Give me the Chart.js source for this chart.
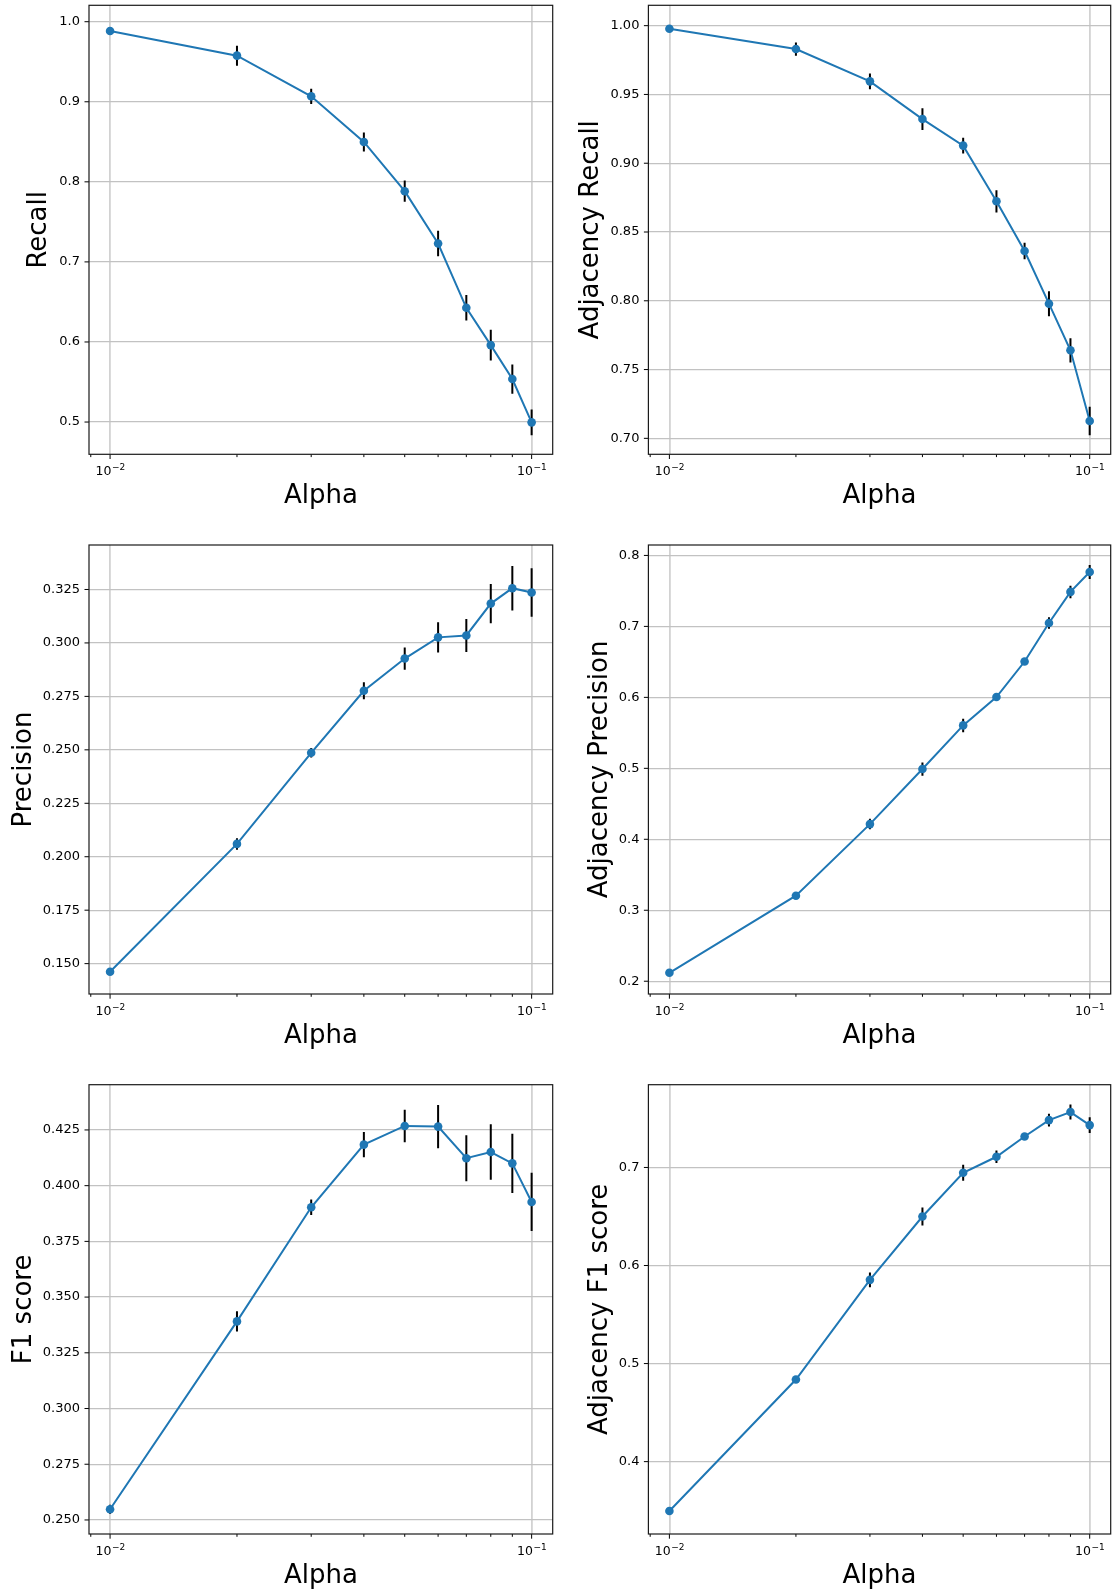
<!DOCTYPE html>
<html>
<head>
<meta charset="utf-8">
<title>Alpha sweep</title>
<script src="https://cdn.jsdelivr.net/npm/chart.js@4.4.1/dist/chart.umd.min.js"></script>
<style>
    html, body { margin: 0; padding: 0; background: #fff; }
    #page { position: relative; width: 1115px; height: 1593px; overflow: hidden; }
    #page canvas { position: absolute; }
</style>
</head>
<body>
<div id="page"></div>
<script>
const alphas = [0.01, 0.02, 0.03, 0.04, 0.05, 0.06, 0.07, 0.08, 0.09, 0.1];
const alphaTicks = [0.009, 0.01, 0.02, 0.03, 0.04, 0.05, 0.06, 0.07, 0.08, 0.09, 0.1];
// base^exponent, drawn with a raised exponent
const alphaTickLabels = ['', '10^\u22122', '', '', '', '', '', '', '', '', '10^\u22121'];

const recallMean = [0.9884, 0.9576, 0.9068, 0.8498, 0.7883, 0.7230, 0.6427, 0.5961, 0.5537, 0.4996];
const recallErr = [0.002, 0.0125, 0.0096, 0.0119, 0.0133, 0.0158, 0.016, 0.0191, 0.0183, 0.0162];
const recallTicks = [0.5, 0.6, 0.7, 0.8, 0.9, 1.0];

const adjRecallMean = [0.9978, 0.9830, 0.9595, 0.9321, 0.9128, 0.8723, 0.8362, 0.7979, 0.7640, 0.7126];
const adjRecallErr = [0.001, 0.0048, 0.0057, 0.0079, 0.0057, 0.0081, 0.006, 0.0091, 0.0088, 0.0103];
const adjRecallTicks = [0.70, 0.75, 0.80, 0.85, 0.90, 0.95, 1.00];

const precisionMean = [0.1462, 0.2060, 0.2486, 0.2776, 0.2927, 0.3026, 0.3035, 0.3184, 0.3256, 0.3236];
const precisionErr = [0.001, 0.0027, 0.0022, 0.004, 0.0052, 0.0071, 0.0077, 0.0092, 0.0104, 0.0113];
const precisionTicks = [0.150, 0.175, 0.200, 0.225, 0.250, 0.275, 0.300, 0.325];

const adjPrecisionMean = [0.2119, 0.3205, 0.4214, 0.4990, 0.5605, 0.6005, 0.6505, 0.7048, 0.7486, 0.7767];
const adjPrecisionErr = [0.002, 0.003, 0.0074, 0.0093, 0.0095, 0.004, 0.003, 0.008, 0.0088, 0.0098];
const adjPrecisionTicks = [0.2, 0.3, 0.4, 0.5, 0.6, 0.7, 0.8];

const f1Mean = [0.2548, 0.3391, 0.3903, 0.4184, 0.4268, 0.4265, 0.4123, 0.4151, 0.4100, 0.3927];
const f1Err = [0.002, 0.0045, 0.0035, 0.0057, 0.0073, 0.0097, 0.0103, 0.0124, 0.0133, 0.0131];
const f1Ticks = [0.250, 0.275, 0.300, 0.325, 0.350, 0.375, 0.400, 0.425];

const adjF1Mean = [0.3497, 0.4837, 0.5854, 0.6500, 0.6946, 0.7109, 0.7316, 0.7483, 0.7565, 0.7432];
const adjF1Err = [0.002, 0.002, 0.0075, 0.0092, 0.0082, 0.0063, 0.003, 0.0065, 0.0077, 0.008];
const adjF1Ticks = [0.4, 0.5, 0.6, 0.7];

const BLUE = '#1f77b4';
const FONT = 'DejaVu Sans';

// grid of canvases: two columns, three rows
const cols = [
    { left: 0, width: 557, axisWidth: 89, padRight: 1.7 },
    { left: 557, width: 558, axisWidth: 91.4, padRight: 0.2 }
];
const rows = [
    { top: 0, height: 530, padTop: 5.3, axisHeight: 75.7 },
    { top: 530, height: 540, padTop: 15, axisHeight: 76 },
    { top: 1070, height: 523, padTop: 14.7, axisHeight: 59 }
];

const panels = [
    { label: 'Recall', mean: recallMean, err: recallErr, ticks: recallTicks, digits: 1, range: [0.4597, 1.0205], row: 0, col: 0, titleMid: 39.6 },
    { label: 'Adjacency Recall', mean: adjRecallMean, err: adjRecallErr, ticks: adjRecallTicks, digits: 2, range: [0.6884, 1.0148], row: 0, col: 1, titleMid: 34.3 },
    { label: 'Precision', mean: precisionMean, err: precisionErr, ticks: precisionTicks, digits: 3, range: [0.1358, 0.3458], row: 1, col: 0, titleMid: 24.5 },
    { label: 'Adjacency Precision', mean: adjPrecisionMean, err: adjPrecisionErr, ticks: adjPrecisionTicks, digits: 1, range: [0.182, 0.8147], row: 1, col: 1, titleMid: 43.2 },
    { label: 'F1 score', mean: f1Mean, err: f1Err, ticks: f1Ticks, digits: 3, range: [0.2437, 0.4453], row: 2, col: 0, titleMid: 24.5 },
    { label: 'Adjacency F1 score', mean: adjF1Mean, err: adjF1Err, ticks: adjF1Ticks, digits: 1, range: [0.3262, 0.7844], row: 2, col: 1, titleMid: 43.2 }
];

const TITLE_SIZE = 26;
const TICK_SIZE = 13;

function isDecade(v) {
    const l = Math.log10(v);
    return Math.abs(l - Math.round(l)) < 1e-9;
}

function zeroPadding(scale) {
    scale.paddingTop = 0;
    scale.paddingBottom = 0;
    scale.paddingLeft = 0;
    scale.paddingRight = 0;
}

// vertical black bars for mean +- err, drawn under the line
function errorBars(panel) {
    return {
        id: 'errorBars',
        beforeDatasetsDraw(chart) {
            const { ctx, scales: { x, y } } = chart;
            ctx.save();
            ctx.strokeStyle = '#000';
            ctx.lineWidth = 2;
            ctx.beginPath();
            alphas.forEach((a, i) => {
                const px = x.getPixelForValue(a);
                ctx.moveTo(px, y.getPixelForValue(panel.mean[i] - panel.err[i]));
                ctx.lineTo(px, y.getPixelForValue(panel.mean[i] + panel.err[i]));
            });
            ctx.stroke();
            ctx.restore();
        }
    };
}

// power-of-ten labels under the log axis: base plus a small raised exponent
function drawPowerLabel(ctx, text, cx, baseline) {
    const [base, exp] = text.split('^');
    ctx.font = '12.5px "' + FONT + '"';
    const wBase = ctx.measureText(base).width;
    ctx.font = '9px "' + FONT + '"';
    const wExp = ctx.measureText(exp).width;
    const start = cx - (wBase + wExp) / 2;
    ctx.font = '12.5px "' + FONT + '"';
    ctx.fillText(base, start, baseline);
    ctx.font = '9px "' + FONT + '"';
    ctx.fillText(exp, start + wBase + 0.5, baseline - 5);
}

// axes box, outward tick marks and the x tick labels
const frame = {
    id: 'frame',
    afterDraw(chart) {
        const { ctx, chartArea: a, scales: { x, y } } = chart;
        ctx.save();
        ctx.strokeStyle = '#000';
        ctx.lineWidth = 1;
        ctx.beginPath();
        x.ticks.forEach(t => {
            const px = x.getPixelForValue(t.value);
            const len = isDecade(t.value) ? 4.7 : 2.8;
            ctx.moveTo(px, a.bottom);
            ctx.lineTo(px, a.bottom + len);
        });
        y.ticks.forEach(t => {
            const py = y.getPixelForValue(t.value);
            ctx.moveTo(a.left - 4.5, py);
            ctx.lineTo(a.left, py);
        });
        ctx.stroke();
        ctx.lineWidth = 1.2;
        ctx.strokeStyle = '#1a1a1a';
        ctx.strokeRect(a.left, a.top, a.right - a.left, a.bottom - a.top);

        ctx.fillStyle = '#000';
        ctx.textBaseline = 'alphabetic';
        ctx.textAlign = 'left';
        alphaTicks.forEach((v, i) => {
            if (alphaTickLabels[i]) {
                drawPowerLabel(ctx, alphaTickLabels[i], x.getPixelForValue(v), a.bottom + 20.7);
            }
        });
        ctx.restore();
    }
};

function buildChart(panel) {
    const col = cols[panel.col];
    const row = rows[panel.row];
    const canvas = document.createElement('canvas');
    canvas.width = col.width;
    canvas.height = row.height;
    canvas.style.left = col.left + 'px';
    canvas.style.top = row.top + 'px';
    document.getElementById('page').appendChild(canvas);

    const titleHalf = TITLE_SIZE * 1.2 / 2;

    return new Chart(canvas, {
        type: 'line',
        data: {
            datasets: [{
                data: alphas.map((a, i) => ({ x: a, y: panel.mean[i] })),
                borderColor: BLUE,
                backgroundColor: BLUE,
                borderWidth: 2,
                pointRadius: 4.3,
                pointBorderWidth: 0,
                pointBackgroundColor: BLUE,
                tension: 0
            }]
        },
        options: {
            responsive: false,
            animation: false,
            events: [],
            layout: { padding: { left: 0, right: col.padRight, top: row.padTop, bottom: 0 } },
            plugins: {
                legend: { display: false },
                tooltip: { enabled: false }
            },
            scales: {
                x: {
                    type: 'logarithmic',
                    min: 0.008913,
                    max: 0.1122,
                    afterBuildTicks: scale => {
                        scale.ticks = alphaTicks.map(v => ({ value: v, major: isDecade(v) }));
                    },
                    afterFit: scale => {
                        scale.height = row.axisHeight;
                        zeroPadding(scale);
                    },
                    border: { display: false },
                    grid: {
                        drawTicks: false,
                        lineWidth: 1.8,
                        color: ctx => (ctx.tick && isDecade(ctx.tick.value)) ? '#d2d2d2' : 'rgba(0,0,0,0)'
                    },
                    ticks: {
                        display: false,
                        autoSkip: false,
                        maxRotation: 0,
                        minRotation: 0
                    },
                    title: {
                        display: true,
                        text: 'Alpha',
                        color: '#000',
                        font: { family: FONT, size: TITLE_SIZE },
                        padding: { top: 0, bottom: row.axisHeight - 42 - titleHalf }
                    }
                },
                y: {
                    type: 'linear',
                    min: panel.range[0],
                    max: panel.range[1],
                    afterBuildTicks: scale => {
                        scale.ticks = panel.ticks.map(v => ({ value: v }));
                    },
                    afterFit: scale => {
                        scale.width = col.axisWidth;
                        zeroPadding(scale);
                    },
                    border: { display: false },
                    grid: {
                        drawTicks: false,
                        lineWidth: 1.3,
                        color: '#c2c2c2'
                    },
                    ticks: {
                        padding: 9,
                        color: '#000',
                        font: { family: FONT, size: TICK_SIZE },
                        callback: value => Number(value).toFixed(panel.digits)
                    },
                    title: {
                        display: true,
                        text: panel.label,
                        color: '#000',
                        font: { family: FONT, size: TITLE_SIZE },
                        padding: { top: panel.titleMid - titleHalf, bottom: 0 }
                    }
                }
            }
        },
        plugins: [errorBars(panel), frame]
    });
}

panels.forEach(buildChart);
</script>
</body>
</html>
